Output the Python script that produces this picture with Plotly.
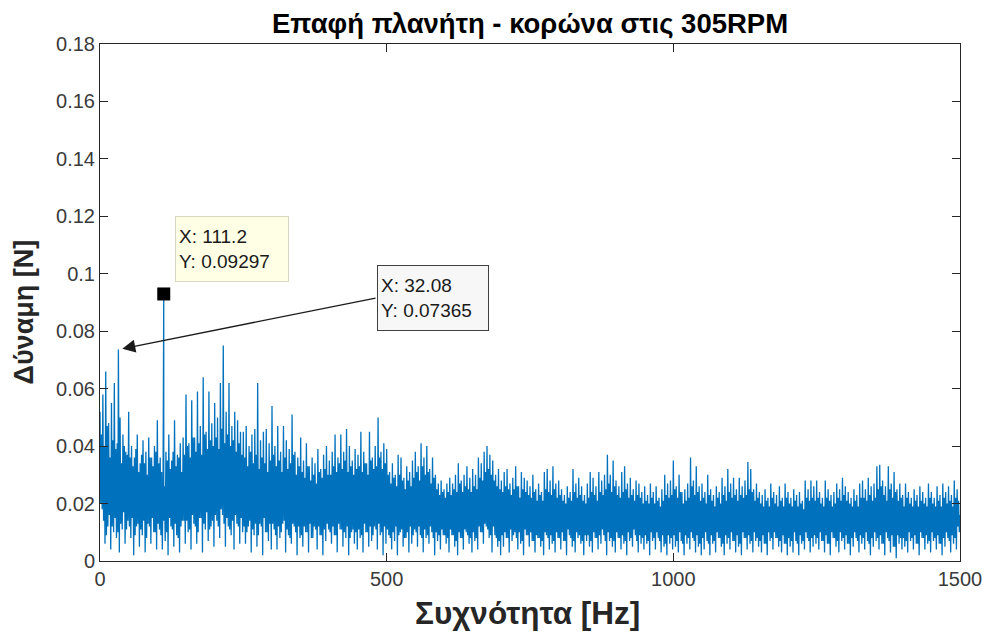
import numpy as np
import plotly.graph_objects as go

# Spectrum of the planet-ring contact force on a 1.25 Hz grid.  Every 5 Hz block
# holds four samples: an outer maximum (5k Hz), an inner minimum (5k+1.25 Hz),
# an inner maximum (5k+2.5 Hz) and an outer minimum (5k+3.75 Hz).
force_peaks = [
    0.052, 0.058, 0.066, 0.048, 0.055, 0.062, 0.041, 0.050, 0.044, 0.038,
    0.052, 0.040, 0.036, 0.044, 0.034, 0.042, 0.038, 0.043, 0.036, 0.040,
    0.049, 0.036, 0.030, 0.038, 0.044, 0.035, 0.049, 0.037, 0.041, 0.043,
    0.058, 0.041, 0.056, 0.043, 0.059, 0.047, 0.064, 0.045, 0.059, 0.048,
    0.055, 0.050, 0.062, 0.075, 0.052, 0.062, 0.047, 0.052, 0.049, 0.045,
    0.045, 0.047, 0.040, 0.044, 0.046, 0.062, 0.042, 0.045, 0.046, 0.041,
    0.054, 0.040, 0.047, 0.038, 0.047, 0.042, 0.039, 0.051, 0.038, 0.036,
    0.043, 0.035, 0.041, 0.033, 0.036, 0.034, 0.039, 0.032, 0.037, 0.040,
    0.035, 0.038, 0.044, 0.036, 0.044, 0.038, 0.046, 0.040, 0.035, 0.039,
    0.037, 0.045, 0.038, 0.034, 0.045, 0.036, 0.040, 0.050, 0.038, 0.041,
    0.039, 0.031, 0.034, 0.030, 0.037, 0.036, 0.029, 0.033, 0.031, 0.035,
    0.038, 0.033, 0.041, 0.036, 0.040, 0.032, 0.036, 0.030, 0.027, 0.028,
    0.025, 0.027, 0.029, 0.027, 0.030, 0.034, 0.028, 0.030, 0.033, 0.029,
    0.032, 0.030, 0.036, 0.034, 0.038, 0.040, 0.037, 0.035, 0.030, 0.032,
    0.028, 0.031, 0.032, 0.027, 0.029, 0.033, 0.026, 0.031, 0.029, 0.028,
    0.026, 0.030, 0.025, 0.027, 0.024, 0.031, 0.032, 0.028, 0.033, 0.027,
    0.028, 0.025, 0.023, 0.026, 0.024, 0.032, 0.027, 0.029, 0.026, 0.023,
    0.027, 0.031, 0.029, 0.026, 0.031, 0.028, 0.030, 0.037, 0.030, 0.035,
    0.028, 0.026, 0.031, 0.033, 0.027, 0.029, 0.025, 0.028, 0.027, 0.024,
    0.026, 0.023, 0.027, 0.024, 0.026, 0.022, 0.025, 0.030, 0.027, 0.028,
    0.035, 0.026, 0.030, 0.024, 0.025, 0.027, 0.036, 0.028, 0.033, 0.026,
    0.027, 0.024, 0.030, 0.025, 0.023, 0.026, 0.024, 0.029, 0.026, 0.032,
    0.027, 0.029, 0.025, 0.029, 0.026, 0.028, 0.0345, 0.032, 0.025, 0.027,
    0.024, 0.023, 0.025, 0.022, 0.027, 0.024, 0.023, 0.026, 0.022, 0.027,
    0.024, 0.022, 0.025, 0.023, 0.024, 0.021, 0.028, 0.025, 0.028, 0.026,
    0.028, 0.024, 0.022, 0.028, 0.025, 0.023, 0.024, 0.027, 0.025, 0.029,
    0.026, 0.024, 0.022, 0.025, 0.023, 0.027, 0.028, 0.025, 0.029, 0.026,
    0.027, 0.033, 0.0335, 0.028, 0.026, 0.033, 0.027, 0.031, 0.025, 0.027,
    0.023, 0.027, 0.024, 0.022, 0.025, 0.023, 0.026, 0.024, 0.022, 0.027,
    0.024, 0.022, 0.026, 0.023, 0.027, 0.024, 0.026, 0.023, 0.028, 0.025,
]
force_inner_troughs = [
    0.020, 0.014, 0.009, 0.016, 0.012, 0.015, 0.010, 0.013, 0.017, 0.011,
    0.012, 0.015, 0.009, 0.013, 0.011, 0.014, 0.008, 0.012, 0.015, 0.010,
    0.013, 0.009, 0.014, 0.010, 0.015, 0.011, 0.013, 0.008, 0.012, 0.014,
    0.014, 0.011, 0.016, 0.012, 0.010, 0.015, 0.013, 0.017, 0.011, 0.014,
    0.016, 0.012, 0.018, 0.013, 0.015, 0.011, 0.014, 0.016, 0.012, 0.015,
    0.012, 0.010, 0.014, 0.011, 0.013, 0.009, 0.012, 0.015, 0.010, 0.013,
    0.013, 0.009, 0.012, 0.010, 0.014, 0.011, 0.008, 0.013, 0.010, 0.012,
    0.009, 0.012, 0.010, 0.013, 0.008, 0.011, 0.012, 0.009, 0.011, 0.013,
    0.010, 0.012, 0.009, 0.013, 0.011, 0.010, 0.012, 0.008, 0.011, 0.010,
    0.011, 0.009, 0.013, 0.010, 0.012, 0.009, 0.011, 0.013, 0.010, 0.012,
    0.011, 0.008, 0.010, 0.012, 0.009, 0.011, 0.008, 0.010, 0.012, 0.009,
    0.010, 0.012, 0.008, 0.011, 0.009, 0.012, 0.008, 0.010, 0.009, 0.011,
    0.009, 0.008, 0.011, 0.009, 0.007, 0.010, 0.008, 0.011, 0.009, 0.008,
    0.010, 0.008, 0.012, 0.010, 0.013, 0.011, 0.009, 0.012, 0.008, 0.007,
    0.009, 0.010, 0.008, 0.011, 0.009, 0.008, 0.010, 0.007, 0.011, 0.009,
    0.010, 0.007, 0.009, 0.008, 0.007, 0.010, 0.008, 0.009, 0.007, 0.010,
    0.008, 0.010, 0.007, 0.011, 0.008, 0.007, 0.010, 0.009, 0.007, 0.009,
    0.009, 0.007, 0.010, 0.008, 0.009, 0.011, 0.007, 0.010, 0.008, 0.007,
    0.010, 0.008, 0.009, 0.007, 0.010, 0.008, 0.011, 0.007, 0.009, 0.008,
    0.009, 0.007, 0.010, 0.008, 0.010, 0.007, 0.009, 0.006, 0.009, 0.008,
    0.009, 0.007, 0.010, 0.006, 0.009, 0.008, 0.010, 0.007, 0.009, 0.006,
    0.008, 0.010, 0.006, 0.009, 0.007, 0.010, 0.008, 0.006, 0.009, 0.008,
    0.010, 0.007, 0.009, 0.006, 0.010, 0.008, 0.009, 0.007, 0.010, 0.008,
    0.007, 0.009, 0.006, 0.010, 0.008, 0.010, 0.008, 0.007, 0.009, 0.006,
    0.008, 0.007, 0.010, 0.006, 0.009, 0.007, 0.010, 0.007, 0.008, 0.009,
    0.008, 0.010, 0.007, 0.009, 0.006, 0.010, 0.008, 0.007, 0.010, 0.008,
    0.009, 0.006, 0.008, 0.010, 0.007, 0.009, 0.008, 0.010, 0.006, 0.008,
    0.010, 0.008, 0.009, 0.006, 0.010, 0.007, 0.009, 0.005, 0.009, 0.008,
    0.008, 0.007, 0.010, 0.008, 0.009, 0.006, 0.010, 0.008, 0.009, 0.007,
    0.010, 0.008, 0.009, 0.006, 0.008, 0.010, 0.007, 0.009, 0.008, 0.012,
]
force_inner_peaks = [
    0.044, 0.040, 0.047, 0.036, 0.042, 0.039, 0.045, 0.034, 0.040, 0.037,
    0.036, 0.033, 0.039, 0.031, 0.037, 0.034, 0.030, 0.036, 0.033, 0.038,
    0.034, 0.031, 0.026, 0.035, 0.032, 0.038, 0.033, 0.036, 0.031, 0.037,
    0.040, 0.036, 0.043, 0.038, 0.041, 0.037, 0.044, 0.039, 0.042, 0.040,
    0.043, 0.039, 0.046, 0.041, 0.044, 0.040, 0.042, 0.038, 0.041, 0.037,
    0.036, 0.033, 0.038, 0.034, 0.037, 0.032, 0.036, 0.034, 0.031, 0.035,
    0.037, 0.033, 0.035, 0.031, 0.036, 0.032, 0.034, 0.037, 0.030, 0.033,
    0.031, 0.029, 0.033, 0.028, 0.030, 0.027, 0.031, 0.029, 0.032, 0.030,
    0.030, 0.033, 0.031, 0.034, 0.032, 0.035, 0.031, 0.033, 0.030, 0.032,
    0.033, 0.031, 0.034, 0.030, 0.035, 0.032, 0.033, 0.036, 0.032, 0.034,
    0.030, 0.027, 0.029, 0.026, 0.030, 0.028, 0.025, 0.028, 0.026, 0.029,
    0.031, 0.028, 0.033, 0.030, 0.031, 0.027, 0.029, 0.025, 0.023, 0.024,
    0.022, 0.024, 0.023, 0.025, 0.024, 0.027, 0.024, 0.026, 0.025, 0.024,
    0.026, 0.025, 0.029, 0.028, 0.031, 0.032, 0.030, 0.028, 0.026, 0.025,
    0.024, 0.026, 0.025, 0.023, 0.025, 0.026, 0.022, 0.025, 0.024, 0.023,
    0.022, 0.024, 0.021, 0.023, 0.021, 0.025, 0.024, 0.023, 0.025, 0.022,
    0.023, 0.021, 0.020, 0.022, 0.021, 0.024, 0.022, 0.023, 0.021, 0.020,
    0.022, 0.024, 0.023, 0.021, 0.024, 0.023, 0.025, 0.027, 0.024, 0.026,
    0.023, 0.022, 0.024, 0.025, 0.022, 0.023, 0.021, 0.023, 0.022, 0.020,
    0.021, 0.020, 0.022, 0.020, 0.021, 0.019, 0.021, 0.023, 0.022, 0.023,
    0.025, 0.022, 0.024, 0.020, 0.021, 0.022, 0.026, 0.023, 0.024, 0.021,
    0.022, 0.020, 0.023, 0.021, 0.019, 0.022, 0.020, 0.023, 0.021, 0.024,
    0.022, 0.023, 0.021, 0.023, 0.022, 0.023, 0.025, 0.024, 0.021, 0.022,
    0.020, 0.019, 0.021, 0.019, 0.022, 0.020, 0.019, 0.021, 0.019, 0.022,
    0.020, 0.019, 0.021, 0.019, 0.020, 0.018, 0.022, 0.021, 0.022, 0.021,
    0.022, 0.020, 0.019, 0.022, 0.021, 0.019, 0.020, 0.022, 0.021, 0.023,
    0.021, 0.020, 0.019, 0.021, 0.019, 0.022, 0.022, 0.021, 0.023, 0.021,
    0.022, 0.025, 0.026, 0.023, 0.021, 0.025, 0.022, 0.024, 0.021, 0.022,
    0.019, 0.022, 0.020, 0.019, 0.021, 0.019, 0.021, 0.020, 0.019, 0.022,
    0.020, 0.019, 0.021, 0.019, 0.022, 0.020, 0.021, 0.019, 0.022, 0.021,
]
force_troughs = [
    0.018, 0.006, 0.012, 0.004, 0.010, 0.008, 0.003, 0.011, 0.006, 0.014,
    0.008, 0.002, 0.012, 0.005, 0.009, 0.003, 0.013, 0.006, 0.010, 0.004,
    0.011, 0.004, 0.007, 0.002, 0.012, 0.005, 0.009, 0.003, 0.014, 0.006,
    0.010, 0.004, 0.013, 0.006, 0.015, 0.003, 0.011, 0.007, 0.012, 0.005,
    0.014, 0.008, 0.016, 0.005, 0.012, 0.009, 0.004, 0.013, 0.006, 0.010,
    0.006, 0.012, 0.003, 0.009, 0.005, 0.013, 0.002, 0.010, 0.007, 0.004,
    0.011, 0.004, 0.008, 0.013, 0.003, 0.009, 0.006, 0.012, 0.002, 0.008,
    0.005, 0.010, 0.003, 0.008, 0.012, 0.004, 0.009, 0.002, 0.007, 0.011,
    0.006, 0.009, 0.003, 0.011, 0.005, 0.008, 0.002, 0.010, 0.006, 0.004,
    0.008, 0.003, 0.010, 0.005, 0.007, 0.012, 0.004, 0.009, 0.002, 0.006,
    0.009, 0.004, 0.007, 0.002, 0.010, 0.005, 0.008, 0.003, 0.006, 0.011,
    0.005, 0.009, 0.003, 0.008, 0.006, 0.010, 0.002, 0.007, 0.004, 0.009,
    0.006, 0.003, 0.009, 0.005, 0.002, 0.008, 0.004, 0.010, 0.006, 0.003,
    0.007, 0.004, 0.010, 0.006, 0.012, 0.008, 0.003, 0.009, 0.005, 0.002,
    0.005, 0.008, 0.003, 0.007, 0.010, 0.004, 0.006, 0.002, 0.009, 0.005,
    0.007, 0.003, 0.008, 0.005, 0.002, 0.009, 0.004, 0.006, 0.003, 0.008,
    0.004, 0.007, 0.002, 0.009, 0.005, 0.003, 0.008, 0.006, 0.002, 0.007,
    0.005, 0.003, 0.008, 0.004, 0.006, 0.009, 0.002, 0.007, 0.005, 0.003,
    0.008, 0.004, 0.006, 0.002, 0.007, 0.005, 0.009, 0.003, 0.006, 0.004,
    0.006, 0.002, 0.007, 0.004, 0.008, 0.003, 0.005, 0.002, 0.006, 0.004,
    0.005, 0.003, 0.007, 0.002, 0.006, 0.004, 0.008, 0.003, 0.005, 0.002,
    0.004, 0.007, 0.002, 0.006, 0.003, 0.008, 0.005, 0.002, 0.006, 0.004,
    0.007, 0.003, 0.005, 0.002, 0.008, 0.004, 0.006, 0.003, 0.007, 0.005,
    0.003, 0.006, 0.002, 0.007, 0.004, 0.008, 0.005, 0.003, 0.006, 0.002,
    0.005, 0.003, 0.007, 0.002, 0.006, 0.004, 0.008, 0.003, 0.005, 0.006,
    0.004, 0.007, 0.003, 0.006, 0.002, 0.008, 0.005, 0.003, 0.007, 0.004,
    0.006, 0.002, 0.005, 0.008, 0.003, 0.006, 0.004, 0.007, 0.002, 0.005,
    0.007, 0.004, 0.006, 0.002, 0.008, 0.003, 0.005, 0.001, 0.006, 0.004,
    0.005, 0.003, 0.007, 0.004, 0.006, 0.002, 0.008, 0.004, 0.006, 0.003,
    0.007, 0.004, 0.006, 0.002, 0.005, 0.008, 0.003, 0.006, 0.004, 0.010,
]
end_freq = 1500.0
end_force = 0.016

# Data-tip points
tip_freq = [111.2, 32.08]
tip_force = [0.09297, 0.07365]

x_ticks = [0, 500, 1000, 1500]
y_ticks = [0, 0.02, 0.04, 0.06, 0.08, 0.1, 0.12, 0.14, 0.16, 0.18]
y_tick_text = ["0", "0.02", "0.04", "0.06", "0.08", "0.1", "0.12", "0.14", "0.16", "0.18"]

bin_step = 1.25
blocks = len(force_peaks)
force = np.empty(4 * blocks)
force[0::4] = force_peaks
force[1::4] = force_inner_troughs
force[2::4] = force_inner_peaks
force[3::4] = force_troughs
freq = np.arange(4 * blocks) * bin_step
freq = np.concatenate([freq, tip_freq, [end_freq]])
force = np.concatenate([force, tip_force, [end_force]])
order = np.argsort(freq, kind="stable")
freq, force = freq[order], force[order]

AX = "#262626"
FONT = "Liberation Sans, Arial, sans-serif"
fig = go.Figure()
fig.add_trace(go.Scatter(x=freq, y=force, mode="lines",
                         line=dict(color="#0072BD", width=1.3), hoverinfo="skip",
                         showlegend=False))
# Marker of the first data tip
fig.add_trace(go.Scatter(x=[tip_freq[0]], y=[tip_force[0]], mode="markers",
                         marker=dict(symbol="square", size=13, color="black"),
                         showlegend=False, hoverinfo="skip"))

axis_common = dict(showline=True, linecolor=AX, linewidth=1, mirror="ticks",
                   ticks="inside", ticklen=8, tickcolor=AX, tickwidth=1,
                   showgrid=False, zeroline=False, automargin=False,
                   tickfont=dict(family=FONT, size=20, color="#3a3a3a"))

fig.update_layout(
    width=986, height=639,
    margin=dict(l=100, r=26, t=44, b=78, autoexpand=False),
    paper_bgcolor="white", plot_bgcolor="white",
    xaxis=dict(range=[0, 1500], tickvals=x_ticks, **axis_common),
    yaxis=dict(range=[0, 0.18], tickvals=y_ticks, ticktext=y_tick_text, **axis_common),
)

annos = [
    # title
    dict(text="<b>Επαφή πλανήτη - κορώνα στις 305RPM</b>", xref="paper", yref="paper",
         x=0.5, y=1, yanchor="middle", yshift=21, showarrow=False,
         font=dict(family=FONT, size=27.5, color="black")),
    # axis titles
    dict(text="<b>Συχνότητα [Hz]</b>", xref="paper", yref="paper", x=0.5, y=0,
         yanchor="middle", yshift=-52, xshift=-3, showarrow=False,
         font=dict(family=FONT, size=31.5, color="#262626")),
    dict(text="<b>Δύναμη [N]</b>", xref="paper", yref="paper", x=0, y=0.5,
         xanchor="center", yanchor="middle", xshift=-77, yshift=-10, textangle=-90,
         showarrow=False,
         font=dict(family=FONT, size=27, color="#262626")),
    # data tip at 111.2 Hz
    dict(text=f"X: {tip_freq[0]}<br>Y: {tip_force[0]}", xref="x", yref="y",
         x=tip_freq[0], y=tip_force[0], xanchor="left", yanchor="bottom",
         xshift=11, yshift=12, showarrow=False, align="left",
         width=106, height=58, bgcolor="#FFFFE6", bordercolor="#D8D8C0",
         borderwidth=1, borderpad=3,
         font=dict(family=FONT, size=19, color="#1a1a1a")),
    # arrow to the 32.08 Hz peak
    dict(text="", x=tip_freq[1], y=tip_force[1], xref="x", yref="y",
         axref="x", ayref="y", ax=483.2, ay=0.0916, showarrow=True,
         arrowhead=2, arrowsize=2, arrowwidth=1.3, arrowcolor="#1a1a1a",
         standoff=4),
    # data tip box for 32.08 Hz
    dict(text=f"X: {tip_freq[1]}<br>Y: {tip_force[1]}", xref="x", yref="y",
         x=483.2, y=0.0916, xanchor="left", yanchor="middle", showarrow=False,
         align="left", width=104, height=58, bgcolor="#F7F7F7",
         bordercolor="#404040", borderwidth=1, borderpad=3,
         font=dict(family=FONT, size=19, color="#1a1a1a")),
]
fig.update_layout(annotations=annos)

fig.write_html("out.html")
